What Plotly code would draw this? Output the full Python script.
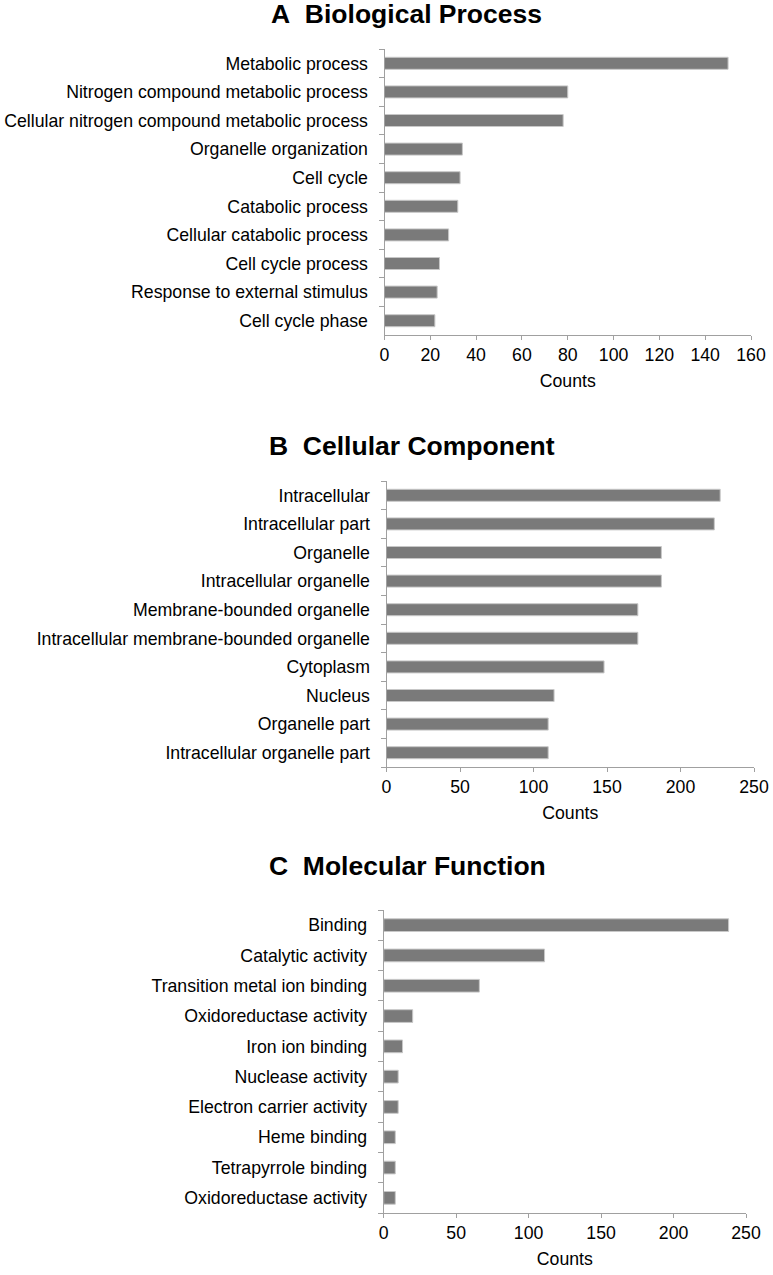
import plotly.graph_objects as go

W, H = 773, 1275

bp_terms = ["Metabolic process", "Nitrogen compound metabolic process",
            "Cellular nitrogen compound metabolic process", "Organelle organization",
            "Cell cycle", "Catabolic process", "Cellular catabolic process",
            "Cell cycle process", "Response to external stimulus", "Cell cycle phase"]
bp_counts = [150, 80, 78, 34, 33, 32, 28, 24, 23, 22]

cc_terms = ["Intracellular", "Intracellular part", "Organelle", "Intracellular organelle",
            "Membrane-bounded organelle", "Intracellular membrane-bounded organelle",
            "Cytoplasm", "Nucleus", "Organelle part", "Intracellular organelle part"]
cc_counts = [227, 223, 187, 187, 171, 171, 148, 114, 110, 110]

mf_terms = ["Binding", "Catalytic activity", "Transition metal ion binding",
            "Oxidoreductase activity", "Iron ion binding", "Nuclease activity",
            "Electron carrier activity", "Heme binding", "Tetrapyrrole binding",
            "Oxidoreductase activity"]
mf_counts = [238, 111, 66, 20, 13, 10, 10, 8, 8, 8]

panel_titles = ["A\u00a0\u00a0Biological Process", "B\u00a0\u00a0Cellular Component",
                "C\u00a0\u00a0Molecular Function"]
x_ranges = [[0, 160], [0, 250], [0, 250]]
x_dticks = [20, 50, 50]

# pixel geometry (left, right, top, bottom)
geo = [(384.5, 751, 49, 335), (386.5, 754, 481, 767), (383.7, 746, 910, 1213)]
title_pos = [(406, 14), (412, 446), (407, 866)]

def px_x(p):
    return p / W

def px_y(p):
    return 1 - p / H

fig = go.Figure()
datasets = [(bp_terms, bp_counts), (cc_terms, cc_counts), (mf_terms, mf_counts)]
FONT = "Liberation Sans, Arial, sans-serif"
FS = 17.7

for i, (terms, counts) in enumerate(datasets):
    n = "" if i == 0 else str(i + 1)
    keys = [f"{i}-{k}" for k in range(len(terms))]  # unique category keys
    fig.add_trace(go.Bar(
        x=counts, y=keys, orientation="h",
        marker=dict(color="#7a7a7a", line=dict(color="#c8c8c8", width=1)),
        width=0.42, xaxis="x" + n, yaxis="y" + n, showlegend=False))
    l, r, t, b = geo[i]
    fig.update_layout(**{
        "xaxis" + n: dict(
            domain=[px_x(l), px_x(r)], range=x_ranges[i], dtick=x_dticks[i],
            anchor="y" + n, showgrid=False, zeroline=False, automargin=False,
            showline=True, linecolor="#a0a0a0", linewidth=1,
            ticks="outside", ticklen=4, tickcolor="#a0a0a0",
            tickfont=dict(size=FS, color="#000", family=FONT),
            title=dict(text="Counts", font=dict(size=FS, color="#000", family=FONT), standoff=10),
            fixedrange=True),
        "yaxis" + n: dict(
            domain=[px_y(b), px_y(t)], anchor="x" + n, automargin=False,
            type="category", categoryorder="array", categoryarray=keys,
            tickmode="array", tickvals=keys, ticktext=terms, autorange="reversed",
            showgrid=False, zeroline=False, showline=True, linecolor="#a0a0a0",
            linewidth=1, ticks="outside", ticklen=5, tickcolor="#a0a0a0",
            tickson="boundaries", ticklabelstandoff=12,
            tickfont=dict(size=FS, color="#000", family=FONT), fixedrange=True),
    })
    tx, ty = title_pos[i]
    fig.add_annotation(text="<b>" + panel_titles[i] + "</b>", xref="paper", yref="paper",
                       x=px_x(tx), y=px_y(ty), xanchor="center", yanchor="middle",
                       showarrow=False, font=dict(size=26.5, color="#000", family=FONT))

fig.update_layout(width=W, height=H, margin=dict(l=0, r=0, t=0, b=0, autoexpand=False),
                  paper_bgcolor="white", plot_bgcolor="white")
fig.write_html("out.html", config={"displayModeBar": False},
               post_script="document.body.style.margin='0px';")
